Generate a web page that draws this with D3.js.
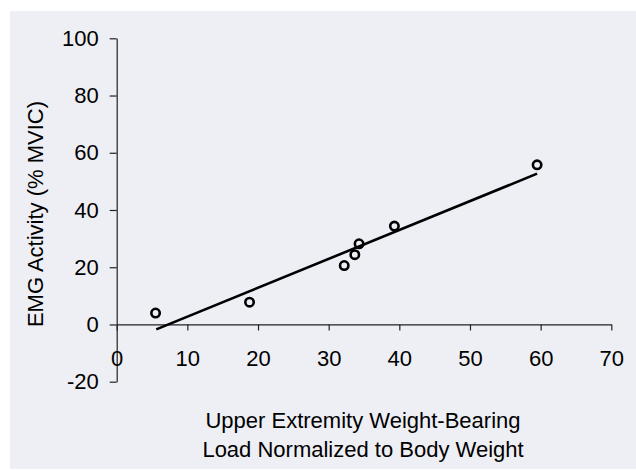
<!DOCTYPE html>
<html lang="en">
<head>
  <meta charset="UTF-8">
  <title>EMG activity vs weight-bearing load</title>
  <script src="https://d3js.org/d3.v7.min.js" charset="utf-8"></script>
  <style>
    body { margin: 0; background: #fff; }
    text { font-family: "Liberation Sans", Arial, sans-serif; fill: #000; }
  </style>
</head>
<body>
<div id="chart"></div>
<script>

var loadPct = [5.5, 18.8, 32.2, 33.7, 34.3, 39.3, 59.5];
var emgPct  = [4.0, 7.8, 20.6, 24.4, 28.2, 34.4, 55.8];

// linear trend line, end points as drawn
var trendX = [5.6, 59.5];
var trendY = [-1.7, 52.7];

var xTicks = [0, 10, 20, 30, 40, 50, 60, 70];
var yTicks = [-20, 0, 20, 40, 60, 80, 100];

var width = 636, height = 470;

var svg = d3.select('#chart').append('svg')
  .attr('width', width)
  .attr('height', height);

svg.append('rect')
  .attr('x', 10).attr('y', 11)
  .attr('width', width - 10).attr('height', 458)
  .attr('fill', '#eeeff5');

var x = d3.scaleLinear()
  .domain([0, 70])
  .range([116.7, 611.3]);

var y = d3.scaleLinear()
  .domain([-20, 100])
  .range([381.7, 38.3]);

// plain hyphen for negatives, like the original
var fmt = d => String(d);

// y axis
var yAxis = svg.append('g')
  .attr('transform', 'translate(' + x(0) + ',0)')
  .call(d3.axisLeft(y).tickValues(yTicks).tickFormat(fmt)
    .tickSize(7).tickSizeOuter(0).tickPadding(11));

// x axis sits on y = 0
var xAxis = svg.append('g')
  .attr('transform', 'translate(0,' + y(0) + ')')
  .call(d3.axisBottom(x).tickValues(xTicks).tickFormat(fmt)
    .tickSize(6).tickSizeOuter(0).tickPadding(20));

svg.selectAll('.domain, .tick line').attr('stroke', '#222').attr('stroke-width', 1.2);
svg.selectAll('.tick text')
  .attr('font-size', 22)
  .attr('font-family', '"Liberation Sans", Arial, sans-serif')
  .attr('fill', '#000');
xAxis.selectAll('.tick text').attr('dy', '0.71em');

// trend line
var line = d3.line()
  .x(d => x(d[0]))
  .y(d => y(d[1]));

svg.append('path')
  .datum(d3.zip(trendX, trendY))
  .attr('fill', 'none')
  .attr('stroke', '#000')
  .attr('stroke-width', 2.6)
  .attr('d', line);

// markers
svg.selectAll('circle.pt')
  .data(d3.zip(loadPct, emgPct))
  .enter().append('circle')
  .attr('class', 'pt')
  .attr('cx', d => x(d[0]))
  .attr('cy', d => y(d[1]))
  .attr('r', 4.2)
  .attr('fill', 'none')
  .attr('stroke', '#000')
  .attr('stroke-width', 2.6);

// axis titles
svg.append('text')
  .attr('transform', 'translate(43,214) rotate(-90)')
  .attr('text-anchor', 'middle')
  .attr('font-size', 22)
  .text('EMG Activity (% MVIC)');

var xTitle = svg.append('text')
  .attr('text-anchor', 'middle')
  .attr('font-size', 22);
xTitle.append('tspan').attr('x', 363).attr('y', 428).text('Upper Extremity Weight-Bearing');
xTitle.append('tspan').attr('x', 363).attr('y', 457).text('Load Normalized to Body Weight');

</script>
</body>
</html>
